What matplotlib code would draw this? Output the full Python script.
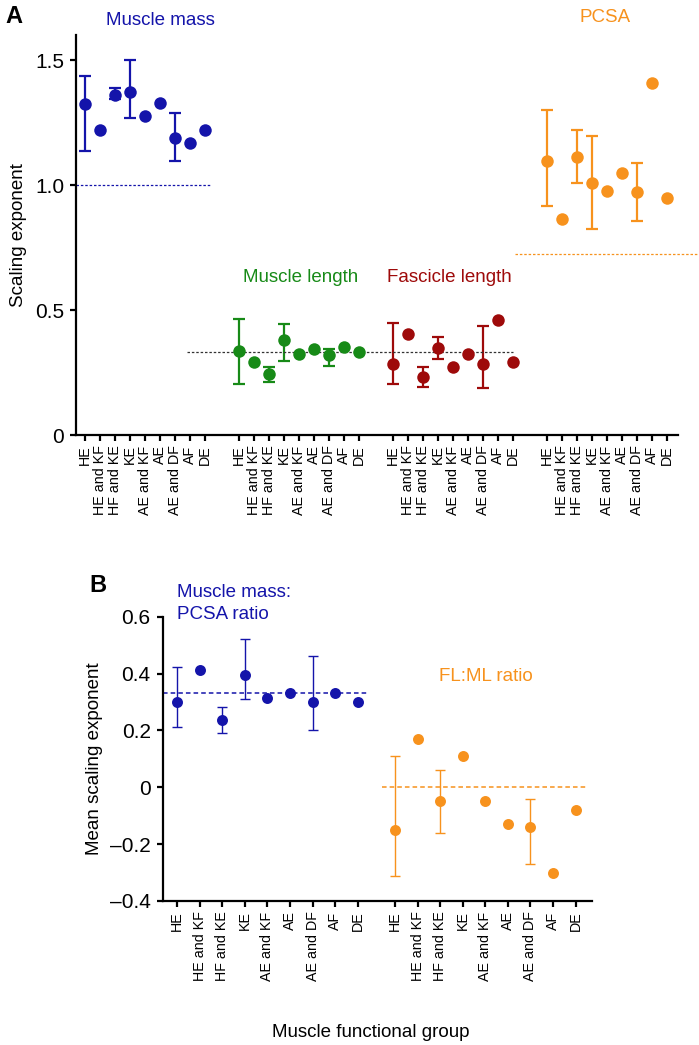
# Scaling exponents of muscle architecture by functional group
import matplotlib.pyplot as plt
import numpy as np

plt.rcParams['font.family'] = ['Liberation Sans', 'DejaVu Sans']

groups = ['HE', 'HE and KF', 'HF and KE', 'KE', 'AE and KF', 'AE',
          'AE and DF', 'AF', 'DE']

# ---------- panel A data ----------
mass = [1.323, 1.219, 1.361, 1.373, 1.277, 1.327, 1.188, 1.167, 1.219]
mass_hi = [1.436, None, 1.387, 1.499, None, None, 1.287, None, None]
mass_lo = [1.137, None, 1.343, 1.268, None, None, 1.096, None, None]

mlen = [0.336, 0.293, 0.243, 0.380, 0.324, 0.344, 0.319, 0.353, 0.333]
mlen_hi = [0.464, None, 0.273, 0.444, None, None, 0.343, None, None]
mlen_lo = [0.204, None, 0.213, 0.295, None, None, 0.276, None, None]

flen = [0.284, 0.405, 0.233, 0.349, 0.273, 0.324, 0.284, 0.461, 0.293]
flen_hi = [0.447, None, 0.273, 0.393, None, None, 0.435, None, None]
flen_lo = [0.203, None, 0.193, 0.304, None, None, 0.189, None, None]

pcsa = [1.097, 0.865, 1.112, 1.009, 0.977, 1.048, 0.973, 1.408, 0.947]
pcsa_hi = [1.299, None, 1.219, 1.197, None, None, 1.087, None, None]
pcsa_lo = [0.916, None, 1.007, 0.825, None, None, 0.857, None, None]

ref_mass = 1.0
ref_len = 0.333
ref_pcsa = 0.724

# ---------- panel B data ----------
mp_ratio = [0.301, 0.413, 0.237, 0.395, 0.313, 0.333, 0.301, 0.333, 0.301]
mp_hi = [0.423, None, 0.284, 0.523, None, None, 0.463, None, None]
mp_lo = [0.211, None, 0.192, 0.312, None, None, 0.202, None, None]

flml = [-0.150, 0.171, -0.049, 0.111, -0.048, -0.130, -0.140, -0.300, -0.080]
flml_hi = [0.111, None, 0.061, None, None, None, -0.040, None, None]
flml_lo = [-0.312, None, -0.160, None, None, None, -0.271, None, None]

ref_mp = 0.331
ref_flml = 0.0

blue = '#1414AA'
green = '#178A17'
red = '#9E0A0A'
orange = '#F7921D'


def plot_series(ax, x, y, hi, lo, color, ms, lw, cap):
    ax.plot(x, y, 'o', color=color, ms=ms, mec='none', zorder=3)
    for xi, yi, h, l in zip(x, y, hi, lo):
        if h is None:
            continue
        ax.errorbar([xi], [yi], yerr=[[yi - l], [h - yi]], fmt='none',
                    ecolor=color, elinewidth=lw, capsize=cap, capthick=lw,
                    zorder=2)


def style_axis(ax, xsize):
    for s in ['top', 'right']:
        ax.spines[s].set_visible(False)
    for s in ['left', 'bottom']:
        ax.spines[s].set_linewidth(1.6)
    ax.tick_params(axis='both', width=1.6, length=4.5, direction='out')
    ax.tick_params(axis='y', labelsize=15, pad=4)
    ax.tick_params(axis='x', labelsize=xsize, rotation=90, pad=3)


fig = plt.figure(figsize=(6.99, 10.45), dpi=100)

# ---------- panel A ----------
axA = fig.add_axes([0.1087, 0.5837, 0.8612, 0.3828])
n = len(groups)
idx = np.arange(n)
step = 10.27
xs = [idx + g * step for g in range(4)]

plot_series(axA, xs[0], mass, mass_hi, mass_lo, blue, 9, 1.6, 4.5)
plot_series(axA, xs[1], mlen, mlen_hi, mlen_lo, green, 9, 1.6, 4.5)
plot_series(axA, xs[2], flen, flen_hi, flen_lo, red, 9, 1.6, 4.5)
plot_series(axA, xs[3], pcsa, pcsa_hi, pcsa_lo, orange, 9, 1.6, 4.5)

axA.plot([-0.6, 8.33], [ref_mass] * 2, ls=(0, (2, 1.5)), lw=0.9, color=blue)
axA.plot([6.8, 28.5], [ref_len] * 2, ls=(0, (2, 1.5)), lw=0.9, color='#333333')
axA.plot([28.67, 40.9], [ref_pcsa] * 2, ls=(0, (2, 1.5)), lw=0.9,
         color=orange, clip_on=False)

axA.set_xlim(-0.6, 39.53)
axA.set_ylim(0, 1.6)
axA.set_yticks([0, 0.5, 1.0, 1.5])
axA.set_yticklabels(['0', '0.5', '1.0', '1.5'])
axA.set_xticks(np.concatenate(xs))
axA.set_xticklabels(groups * 4)
style_axis(axA, 10.3)
axA.set_ylabel('Scaling exponent', fontsize=13.5, labelpad=6)

axA.text(5.0, 1.66, 'Muscle mass', color=blue, fontsize=13.5,
         ha='center', va='center')
axA.text(14.4, 0.63, 'Muscle length', color=green, fontsize=13.5,
         ha='center', va='center')
axA.text(24.3, 0.63, 'Fascicle length', color=red, fontsize=13.5,
         ha='center', va='center')
axA.text(34.7, 1.67, 'PCSA', color=orange, fontsize=13.5,
         ha='center', va='center')
fig.text(0.008, 0.984, 'A', fontsize=17, fontweight='bold', va='center')

# ---------- panel B ----------
axB = fig.add_axes([0.2325, 0.1378, 0.6144, 0.2721])
xb = [idx, idx + 9.65]
plot_series(axB, xb[0], mp_ratio, mp_hi, mp_lo, blue, 7.9, 1.0, 3.5)
plot_series(axB, xb[1], flml, flml_hi, flml_lo, orange, 7.9, 1.0, 3.5)

axB.plot([-0.65, 8.45], [ref_mp] * 2, ls=(0, (3, 2)), lw=1.1, color=blue)
axB.plot([9.06, 18.1], [ref_flml] * 2, ls=(0, (3, 2)), lw=1.1,
         color=orange)

axB.set_xlim(-0.65, 18.38)
axB.set_ylim(-0.4, 0.6)
yb = [-0.4, -0.2, 0, 0.2, 0.4, 0.6]
axB.set_yticks(yb)
axB.set_yticklabels(['\u20130.4', '\u20130.2', '0', '0.2', '0.4', '0.6'])
axB.set_xticks(np.concatenate(xb))
axB.set_xticklabels(groups * 2)
style_axis(axB, 10.3)
axB.set_ylabel('Mean scaling exponent', fontsize=13.5, labelpad=5)

axB.text(-0.0, 0.646, 'Muscle mass:\nPCSA ratio', color=blue, fontsize=13.5,
         ha='left', va='center', linespacing=1.45)
axB.text(13.7, 0.39, 'FL:ML ratio', color=orange, fontsize=13.5,
         ha='center', va='center')
fig.text(0.128, 0.44, 'B', fontsize=17, fontweight='bold', va='center')

fig.text(0.53, 0.004, 'Muscle functional group', fontsize=13.5,
         ha='center', va='bottom')

fig.savefig('out.png', dpi=100)
